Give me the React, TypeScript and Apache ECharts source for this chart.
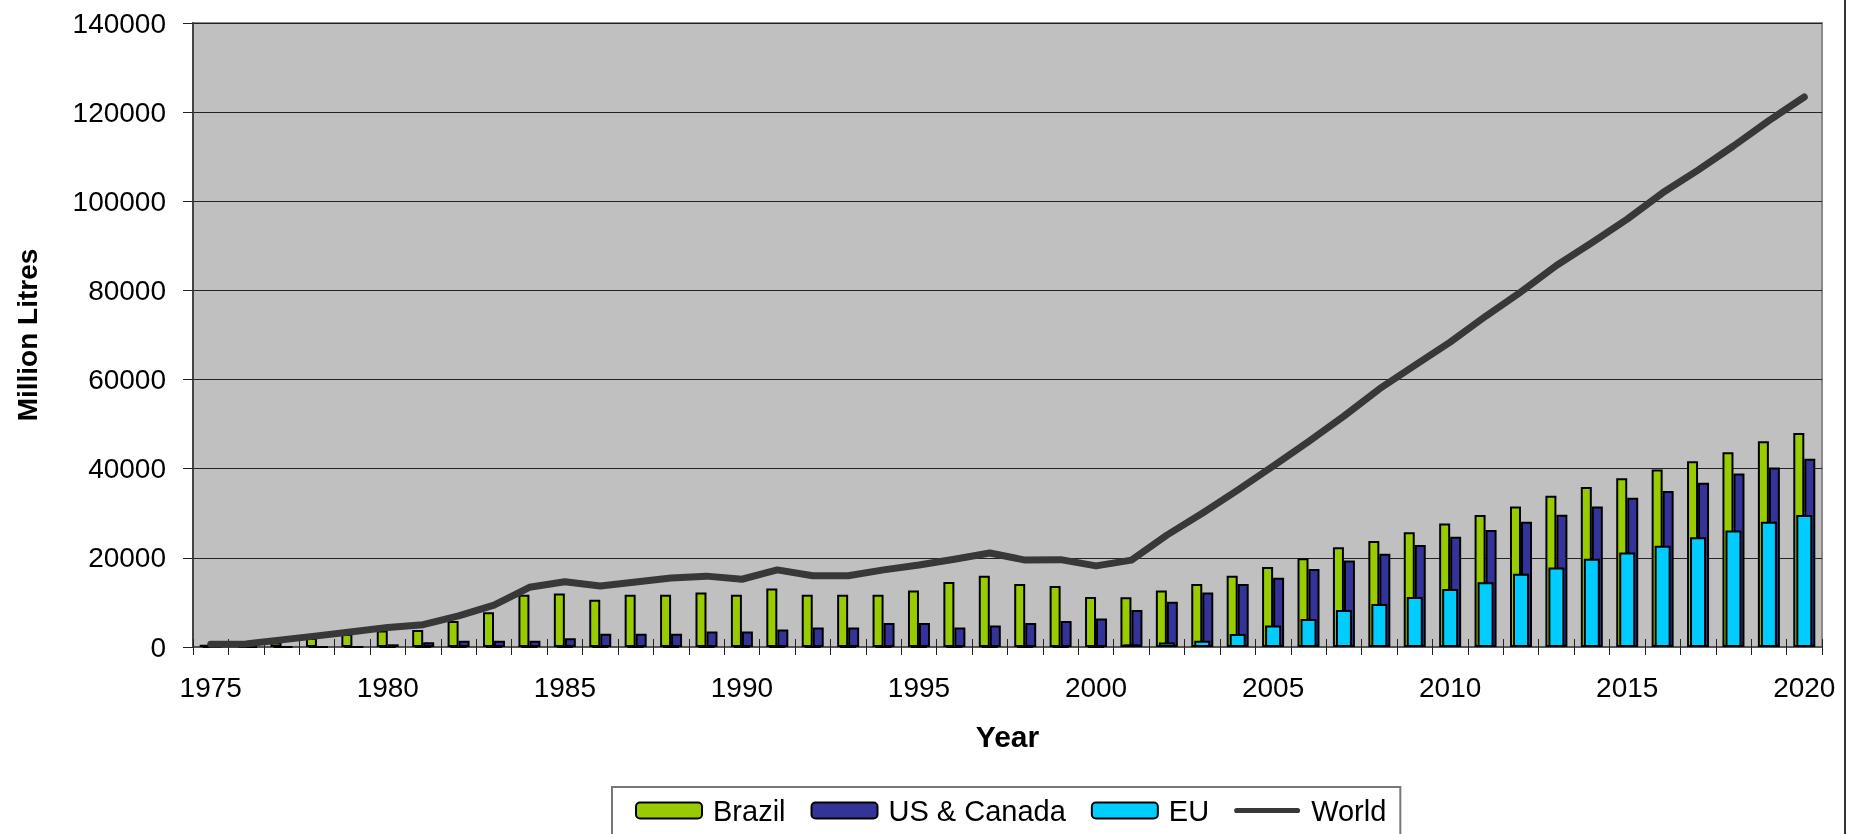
import React, { useEffect, useRef } from "react";
import * as echarts from "echarts";

const years: string[] = [];
for (let y = 1975; y <= 2020; y++) years.push(String(y));

const brazil = [
  500, 550, 1000, 2000, 2900, 3700, 3800, 5850, 7800, 11700,
  12000, 10600, 11700, 11700, 12200, 11700, 13150, 11700, 11700, 11700,
  12650, 14600, 16000, 14150, 13700, 11200, 11150, 12650, 14150, 16000,
  17950, 19900, 22400, 23800, 25750, 27700, 29600, 31550, 33950, 35900,
  37850, 39800, 41700, 43700, 46150, 48000,
];

const usCanada = [
  0, 0, 0, 0, 0, 600, 1050, 1400, 1400, 1400,
  1950, 3000, 3000, 3000, 3450, 3450, 3900, 4350, 4350, 5400,
  5400, 4350, 4850, 5400, 5850, 6400, 8300, 10150, 12200, 14150,
  15550, 17500, 19400, 20900, 22900, 24750, 26250, 28100, 29650, 31550,
  33500, 35000, 36850, 38900, 40300, 42250,
];

const eu = [
  0, 0, 0, 0, 0, 0, 0, 0, 0, 0,
  0, 0, 0, 0, 0, 0, 0, 0, 0, 0,
  0, 0, 0, 0, 0, 0, 600, 1000, 1400, 2900,
  4800, 6300, 8300, 9650, 11200, 13000, 14500, 16450, 17850, 19800,
  21200, 22700, 24650, 26150, 28100, 29600,
];

const world = [
  600, 700, 1600, 2500, 3400, 4400, 5000, 7000, 9400, 13400,
  14650, 13700, 14600, 15500, 15900, 15200, 17300, 16000, 16000, 17300,
  18400, 19700, 21100, 19500, 19600, 18200, 19500, 25100, 30000, 35200,
  40600, 46100, 51800, 57900, 63200, 68400, 74200, 79700, 85600, 90700,
  96000, 101900, 107000, 112400, 118100, 123400,
];

const yTicks = { min: 0, max: 140000, interval: 20000 };

const FONT = "'Liberation Sans', Arial, sans-serif";
const LINE_ICON = "path://M3,0 L74,0 A3,3 0 0 1 74,6 L3,6 A3,3 0 0 1 3,0 Z";

export default function App() {
  const ref = useRef<HTMLDivElement>(null);

  useEffect(() => {
    if (!ref.current) return;
    const chart = echarts.init(ref.current, null, { renderer: "svg" });
    const barBorder = { borderColor: "#000", borderWidth: 2 };
    chart.setOption({
      animation: false,
      textStyle: { fontFamily: FONT },
      grid: {
        left: 193,
        right: 38,
        top: 23,
        bottom: 187,
        show: true,
        backgroundColor: "#c0c0c0",
        borderColor: "#8a8a8a",
        borderWidth: 2,
      },
      legend: {
        left: 612,
        top: 787,
        orient: "horizontal",
        itemWidth: 66,
        itemHeight: 16,
        itemGap: 25,
        padding: [9, 14, 30, 23],
        borderColor: "#777",
        borderWidth: 2,
        textStyle: { fontSize: 29, color: "#000", fontFamily: FONT, padding: [0, 0, 0, 6] },
        data: [
          { name: "Brazil" },
          { name: "US & Canada" },
          { name: "EU" },
          {
            name: "World",
            icon: LINE_ICON,
            itemStyle: { color: "#383838", borderWidth: 0 },
          },
        ],
      },
      xAxis: [
        {
          type: "category",
          data: years,
          position: "bottom",
          name: "Year",
          nameLocation: "middle",
          nameGap: 74,
          nameTextStyle: { fontSize: 30, fontWeight: "bold", color: "#000", fontFamily: FONT },
          axisLine: { show: true, lineStyle: { color: "#555", width: 2 } },
          axisTick: { show: true, interval: 0, length: 8, lineStyle: { color: "#222", width: 1 } },
          axisLabel: { interval: 4, fontSize: 28, color: "#000", margin: 26, fontFamily: FONT },
          splitLine: { show: false },
        },
        {
          type: "category",
          data: years,
          position: "bottom",
          axisLine: { show: false },
          axisTick: { show: true, inside: true, interval: 0, length: 8, lineStyle: { color: "#222", width: 1 } },
          axisLabel: { show: false },
          splitLine: { show: false },
        },
      ],
      yAxis: {
        type: "value",
        min: yTicks.min,
        max: yTicks.max,
        interval: yTicks.interval,
        name: "Million Litres",
        nameLocation: "middle",
        nameGap: 152,
        nameRotate: 90,
        nameTextStyle: { fontSize: 28, fontWeight: "bold", color: "#000", fontFamily: FONT },
        axisLine: { show: true, lineStyle: { color: "#444", width: 2 } },
        axisTick: { show: true, length: 10, lineStyle: { color: "#222", width: 1 } },
        axisLabel: {
          fontSize: 28,
          color: "#000",
          margin: 27,
          fontFamily: FONT,
          formatter: (v: number) => String(v),
        },
        splitLine: { show: true, lineStyle: { color: "#222", width: 1 } },
      },
      series: [
        {
          name: "Brazil",
          type: "bar",
          xAxisIndex: 0,
          data: brazil,
          barWidth: 11,
          barGap: "0%",
          itemStyle: { color: "#99cc00", ...barBorder },
          z: 2,
        },
        {
          name: "US & Canada",
          type: "bar",
          xAxisIndex: 0,
          data: usCanada,
          barWidth: 11,
          barGap: "0%",
          itemStyle: { color: "#333399", ...barBorder },
          z: 2,
        },
        {
          name: "EU",
          type: "bar",
          xAxisIndex: 1,
          data: eu,
          barWidth: 16,
          itemStyle: { color: "#00ccff", ...barBorder },
          z: 3,
        },
        {
          name: "World",
          type: "line",
          xAxisIndex: 0,
          data: world,
          symbol: "none",
          showSymbol: false,
          lineStyle: { color: "#383838", width: 7, cap: "round", join: "round" },
          itemStyle: { color: "#383838" },
          z: 4,
        },
      ],
      graphic: [
        {
          type: "line",
          shape: { x1: 1845, y1: 0, x2: 1845, y2: 834 },
          style: { stroke: "#333", lineWidth: 2 },
          silent: true,
        },
      ],
    });
    return () => chart.dispose();
  }, []);

  return (
    <div
      ref={ref}
      style={{ position: "fixed", left: 0, top: 0, width: 1860, height: 834 }}
    />
  );
}
